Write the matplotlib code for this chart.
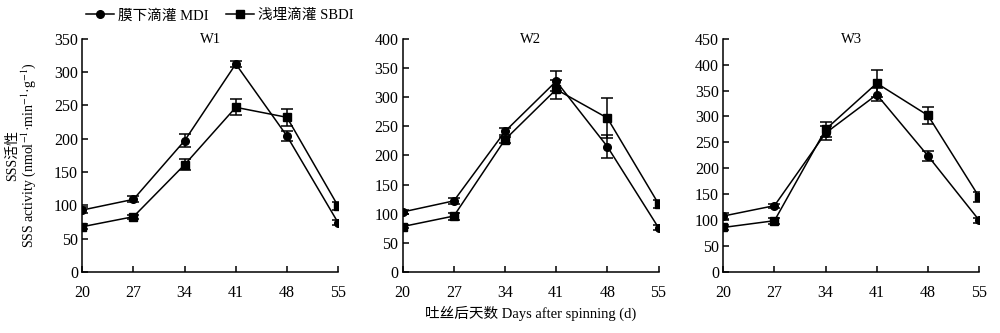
import numpy as np
import matplotlib
matplotlib.use('Agg')
import matplotlib.pyplot as plt
from matplotlib.lines import Line2D

plt.rcParams['font.family'] = ['Liberation Serif', 'Noto Sans CJK SC']
plt.rcParams['mathtext.fontset'] = 'stix'

days = [20, 27, 34, 41, 48, 55]
panels = ['W1', 'W2', 'W3']
ymax = [350, 400, 450]

# 膜下滴灌 MDI
mdi = [
    [93, 109, 197, 312, 204, 74],
    [103, 122, 241, 327, 215, 76],
    [108, 128, 268, 342, 224, 100],
]
mdi_err = [
    [4, 4.5, 10, 5, 8, 4],
    [4, 5, 6, 17, 20, 4],
    [5, 4, 14, 13, 10, 5],
]
# 浅埋滴灌 SBDI
sbdi = [
    [68, 83, 161, 247, 232, 99],
    [78, 96, 227, 313, 264, 117],
    [86, 99, 275, 364, 302, 145],
]
sbdi_err = [
    [4, 3, 8, 12, 13, 5.5],
    [3, 6, 5, 16, 35, 7],
    [5, 6, 14, 26, 16, 10],
]

fig = plt.figure(figsize=(10, 3.33), dpi=100)
lefts = [0.0823, 0.4027, 0.7233]
fs = 10.5
tfs = 11.5

for i in range(3):
    ax = fig.add_axes([lefts[i], 0.183, 0.2558, 0.701])
    kw = dict(color='black', lw=1.1, capsize=4, elinewidth=1.1, capthick=1.1)
    ax.errorbar(days, mdi[i], yerr=mdi_err[i], marker='o', ms=5.5, **kw)
    ax.errorbar(days, sbdi[i], yerr=sbdi_err[i], marker='s', ms=5.5, **kw)
    ax.set_xlim(20, 55)
    ax.set_ylim(0, ymax[i])
    ax.set_xticks(days)
    ax.set_yticks(np.arange(0, ymax[i] + 1, 50))
    ax.spines['top'].set_visible(False)
    ax.spines['right'].set_visible(False)
    for s in ['left', 'bottom']:
        ax.spines[s].set_linewidth(1.1)
    ax.tick_params(direction='in', length=4, width=1.1, labelsize=tfs)
    ax.tick_params(axis='x', pad=9)
    ax.tick_params(axis='y', pad=3)
    ax.text(0.5, 0.995, panels[i], transform=ax.transAxes, ha='center', va='center', fontsize=fs)

fig.text(0.0225, 0.534, 'SSS活性\nSSS activity (nmol$^{-1}$·min$^{-1}$·g$^{-1}$)',
         rotation=90, ha='center', va='center', fontsize=10, linespacing=1.0,
         multialignment='center')

fig.text(0.5305, 0.06, '吐丝后天数 Days after spinning (d)', ha='center', va='center', fontsize=fs)

handles = [
    Line2D([], [], color='black', lw=1.1, marker='o', ms=5.5),
    Line2D([], [], color='black', lw=1.1, marker='s', ms=5.5),
]
fig.legend(handles, ['膜下滴灌 MDI', '浅埋滴灌 SBDI'], loc='center left',
           bbox_to_anchor=(0.08, 0.953), ncol=2, frameon=False, fontsize=fs,
           handlelength=1.9, handletextpad=0.3, columnspacing=1.2, borderaxespad=0)

fig.savefig('out.png', dpi=100)
